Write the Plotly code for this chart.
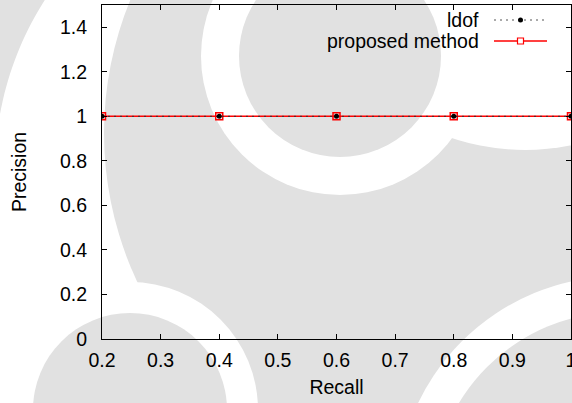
import numpy as np
import plotly.graph_objects as go

# ---------------- data ----------------
recall = [0.2, 0.4, 0.6, 0.8, 1.0]
precision_ldof = [1, 1, 1, 1, 1]
precision_proposed = [1, 1, 1, 1, 1]

x_ticks = [0.2, 0.3, 0.4, 0.5, 0.6, 0.7, 0.8, 0.9, 1.0]
x_ticktext = ["0.2", "0.3", "0.4", "0.5", "0.6", "0.7", "0.8", "0.9", "1"]
y_ticks = [0, 0.2, 0.4, 0.6, 0.8, 1.0, 1.2, 1.4]
y_ticktext = ["0", "0.2", "0.4", "0.6", "0.8", "1", "1.2", "1.4"]

series_names = ["ldof", "proposed method"]

# ---------------- layout geometry ----------------
WIDTH, HEIGHT = 572, 403
ML, MR, MT, MB = 102, 1, 5, 64
PW = WIDTH - ML - MR
PH = HEIGHT - MT - MB
FONT = "Liberation Sans, Arial, Helvetica, sans-serif"
FS = 19.5
GREY = "#e1e1e1"
DOTS = "2px,4px"


def px(x):
    return (x - ML) / PW


def py(y):
    return (HEIGHT - MB - y) / PH


def circle(cx, cy, r, color):
    return dict(type="circle", xref="paper", yref="paper", layer="below",
                x0=px(cx - r), x1=px(cx + r), y0=py(cy + r), y1=py(cy - r),
                fillcolor=color, line=dict(width=0))


def sector(cx, cy, r_in, r_out, a0, a1, color, n=80):
    t = np.radians(np.linspace(a0, a1, n))
    outer = [(cx + r_out * np.cos(a), cy + r_out * np.sin(a)) for a in t]
    inner = [(cx + r_in * np.cos(a), cy + r_in * np.sin(a)) for a in t[::-1]]
    pts = outer + inner
    d = "M " + " L ".join(f"{px(x):.5f},{py(y):.5f}" for x, y in pts) + " Z"
    return dict(type="path", xref="paper", yref="paper", layer="below",
                path=d, fillcolor=color, line=dict(width=0))


# background watermark (light grey logo)
shapes = [
    sector(310, 170, 315, 380, 175, 275, GREY),
    circle(454, 133, 350, GREY),
    circle(525, -80, 230, "white"),
    circle(340, 56, 139, "white"),
    circle(340, 56, 101, GREY),
    circle(130, 410, 128, "white"),
    circle(130, 410, 97, GREY),
    circle(620, 500, 224, "white"),
    circle(620, 500, 188, GREY),
]

fig = go.Figure()

fig.add_trace(go.Scatter(
    x=recall, y=precision_proposed, name=series_names[1],
    mode="lines+markers",
    line=dict(color="#ff0000", width=1.5),
    marker=dict(symbol="square-open", size=7, color="#ff0000",
                line=dict(width=1.5, color="#ff0000")),
))
fig.add_trace(go.Scatter(
    x=recall, y=precision_ldof, name=series_names[0],
    mode="lines+markers",
    line=dict(color="#333333", width=1, dash=DOTS),
    marker=dict(symbol="circle", size=5, color="#000000"),
))

# legend (gnuplot style: text then sample), built with annotations + shapes
leg_text_x = 481
leg_line_x0, leg_line_x1 = 494, 547
leg_y = [20, 41]
annotations = []
for name, yy in zip(series_names, leg_y):
    annotations.append(dict(text=name, xref="paper", yref="paper",
                            x=px(leg_text_x), y=py(yy), xanchor="right",
                            yanchor="middle", showarrow=False,
                            font=dict(family=FONT, size=FS, color="black")))
mid = (leg_line_x0 + leg_line_x1) / 2
shapes += [
    dict(type="line", xref="paper", yref="paper",
         x0=px(leg_line_x0), x1=px(leg_line_x1), y0=py(leg_y[0]), y1=py(leg_y[0]),
         line=dict(color="#555555", width=1, dash=DOTS)),
    dict(type="circle", xref="paper", yref="paper",
         x0=px(mid - 2.5), x1=px(mid + 2.5), y0=py(leg_y[0] + 2.5), y1=py(leg_y[0] - 2.5),
         fillcolor="black", line=dict(width=0)),
    dict(type="line", xref="paper", yref="paper",
         x0=px(leg_line_x0), x1=px(leg_line_x1), y0=py(leg_y[1]), y1=py(leg_y[1]),
         line=dict(color="#ff0000", width=1.5)),
    dict(type="rect", xref="paper", yref="paper",
         x0=px(mid - 3), x1=px(mid + 3), y0=py(leg_y[1] + 3), y1=py(leg_y[1] - 3),
         fillcolor="white", line=dict(color="#ff0000", width=1.2)),
]

axis_common = dict(
    showline=True, linecolor="black", linewidth=1.2, mirror="ticks",
    ticks="inside", ticklen=5, tickwidth=1, tickcolor="black",
    showgrid=False, zeroline=False, ticklabeloverflow="allow",
    tickfont=dict(family=FONT, size=FS, color="black"),
)

fig.update_layout(
    width=WIDTH, height=HEIGHT,
    margin=dict(l=ML, r=MR, t=MT, b=MB, pad=0),
    paper_bgcolor="white", plot_bgcolor="rgba(0,0,0,0)",
    showlegend=False,
    font=dict(family=FONT, size=FS, color="black"),
    shapes=shapes, annotations=annotations,
    xaxis=dict(range=[0.2, 1.0], tickvals=x_ticks, ticktext=x_ticktext,
               ticklabelstandoff=3,
               title=dict(text="Recall", standoff=10,
                          font=dict(family=FONT, size=FS)),
               automargin=False, **axis_common),
    yaxis=dict(range=[0, 1.5], tickvals=y_ticks, ticktext=y_ticktext,
               ticklabelstandoff=10,
               title=dict(text="Precision", standoff=28,
                          font=dict(family=FONT, size=FS)),
               automargin=False, **axis_common),
)

fig.write_html("out.html")
